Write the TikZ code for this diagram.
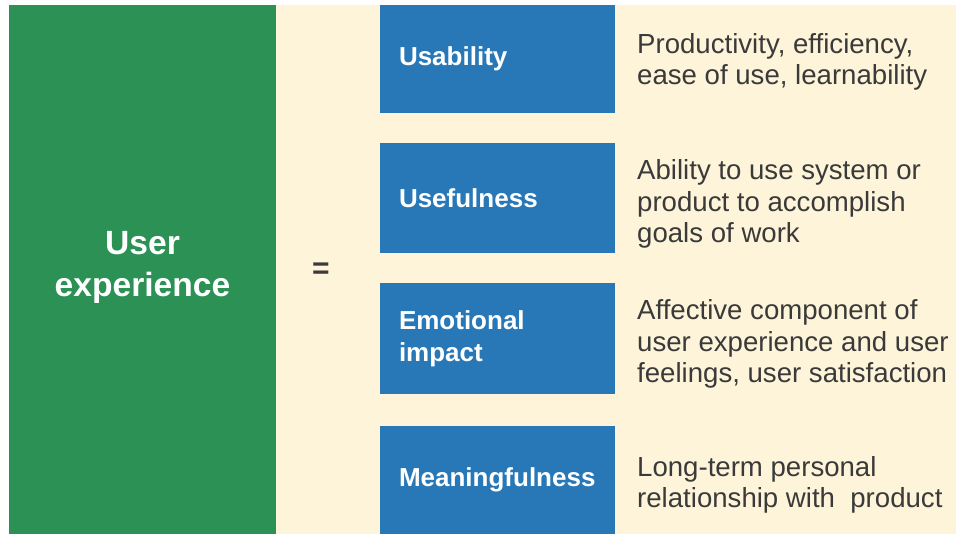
\documentclass[tikz,border=0pt]{standalone}
\usepackage{fontspec}
\setmainfont{Liberation Sans}
\definecolor{uxgreen}{HTML}{2B9155}
\definecolor{uxcream}{HTML}{FEF4D9}
\definecolor{uxblue}{HTML}{2878B8}
\definecolor{uxtext}{HTML}{3A3A3A}
\begin{document}
\begin{tikzpicture}[x=1pt,y=-1pt,
  panel/.style={inner sep=0pt, outer sep=0pt, anchor=north west},
  bluebox/.style={fill=uxblue, text=white, anchor=north west, outer sep=0pt,
    minimum width=235pt, text width=197pt, inner xsep=19pt, inner ysep=0pt, align=left,
    font=\fontsize{26}{32}\selectfont\bfseries},
  desc/.style={anchor=west, inner sep=0pt, text=uxtext, align=left,
    font=\fontsize{27.6}{31.3}\selectfont}]
\useasboundingbox (0,0) rectangle (956,534);
\fill[white] (0,0) rectangle (956,534);
\node[panel, fill=uxcream, minimum width=680pt, minimum height=529pt] (bg) at (276,5) {};
\node[panel, fill=uxgreen, minimum width=267pt, minimum height=529pt] (ux) at (9,5) {};
\node[text=white, align=center, inner sep=0pt, font=\fontsize{33.6}{42}\selectfont\bfseries]
  (uxlabel) at (142.5,267) {User\\experience};
\node[text=uxtext, font=\fontsize{30}{30}\selectfont\bfseries] (eq) at (321,271) {=};
\node[bluebox, minimum height=108pt] (b1) at (380,5) {Usability};
\node[bluebox, minimum height=110pt] (b2) at (380,143) {Usefulness};
\node[bluebox, minimum height=111pt] (b3) at (380,283) {Emotional\\impact};
\node[bluebox, minimum height=108pt] (b4) at (380,426) {Meaningfulness};
\node[desc] (d1) at (637,62) {Productivity, efficiency,\\ease of use, learnability};
\node[desc] (d2) at (637,204) {Ability to use system or\\product to accomplish\\goals of work};
\node[desc] (d3) at (637,344) {Affective component of\\user experience and user\\feelings, user satisfaction};
\node[desc] (d4) at (637,485) {Long-term personal\\relationship with\ \ product};
\end{tikzpicture}
\end{document}
